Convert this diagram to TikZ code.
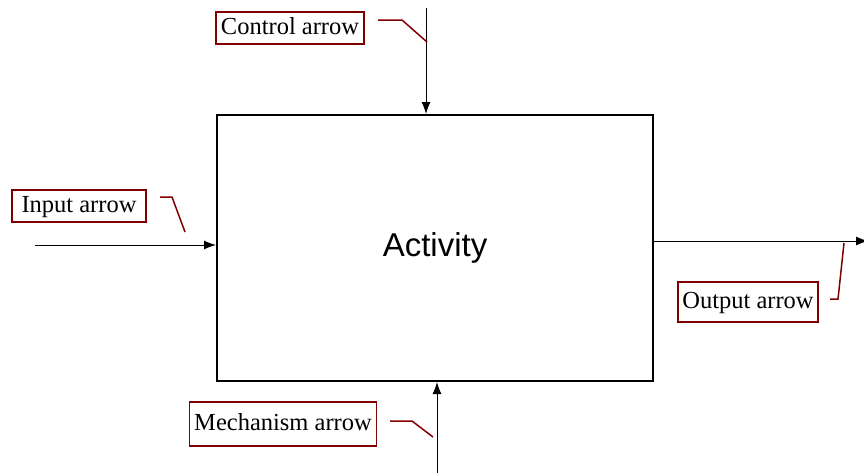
\documentclass[tikz,border=0pt]{standalone}
\usepackage{fontspec}
\setmainfont{Liberation Serif}
\newfontfamily\actfont{Liberation Sans}
\usetikzlibrary{arrows.meta}
\definecolor{leadred}{RGB}{128,0,0}
\begin{document}
\begin{tikzpicture}[x=1pt, y=-1pt,
    arr/.style={line width=1pt, -{Latex[length=12pt,width=9pt]}},
    lbl/.style={draw=leadred, line width=1.3pt, font=\fontsize{24.5}{28}\selectfont,
        inner xsep=3pt, inner ysep=0pt, text height=17pt, text depth=5pt},
    lead/.style={leadred, line width=1.5pt}]
    \useasboundingbox (0,0) rectangle (864,472);
    % The activity box
    \node[draw, line width=2pt, minimum width=436pt, minimum height=266pt,
        font=\actfont\fontsize{33}{40}\selectfont] (activity) at (435,248) {Activity};

    % Free ends of the arrows
    \coordinate (ctrlin) at (426,8);
    \coordinate (inpin) at (35,245);
    \coordinate (outend) at (868,241);
    \coordinate (mechin) at (437,474);

    % Arrows
    \draw[arr] (ctrlin) -- (ctrlin |- activity.north);
    \draw[arr] (inpin) -- (inpin -| activity.west);
    \draw[arr, line width=0.8pt] (outend -| activity.east) -- (outend);
    \draw[arr] (mechin) -- (mechin |- activity.south);

    % Labels
    \node[lbl, minimum width=148pt, minimum height=32pt] (ctrl) at (290,28) {Control arrow};
    \node[lbl, minimum width=134pt, minimum height=32pt] (inp) at (79,206) {Input arrow};
    \node[lbl, minimum width=140pt, minimum height=40pt] (outp) at (748,302) {Output arrow};
    \node[lbl, minimum width=187pt, minimum height=44pt] (mech) at (283,424) {Mechanism arrow};

    % Leader lines
    \draw[lead] (378,20) -- (402,20) -- (427,42);
    \draw[lead] (160,197) -- (172,197) -- (185,232);
    \draw[lead] (830,299) -- (838,299) -- (844,243);
    \draw[lead] (390,421) -- (412,421) -- (433,437);
\end{tikzpicture}
\end{document}
